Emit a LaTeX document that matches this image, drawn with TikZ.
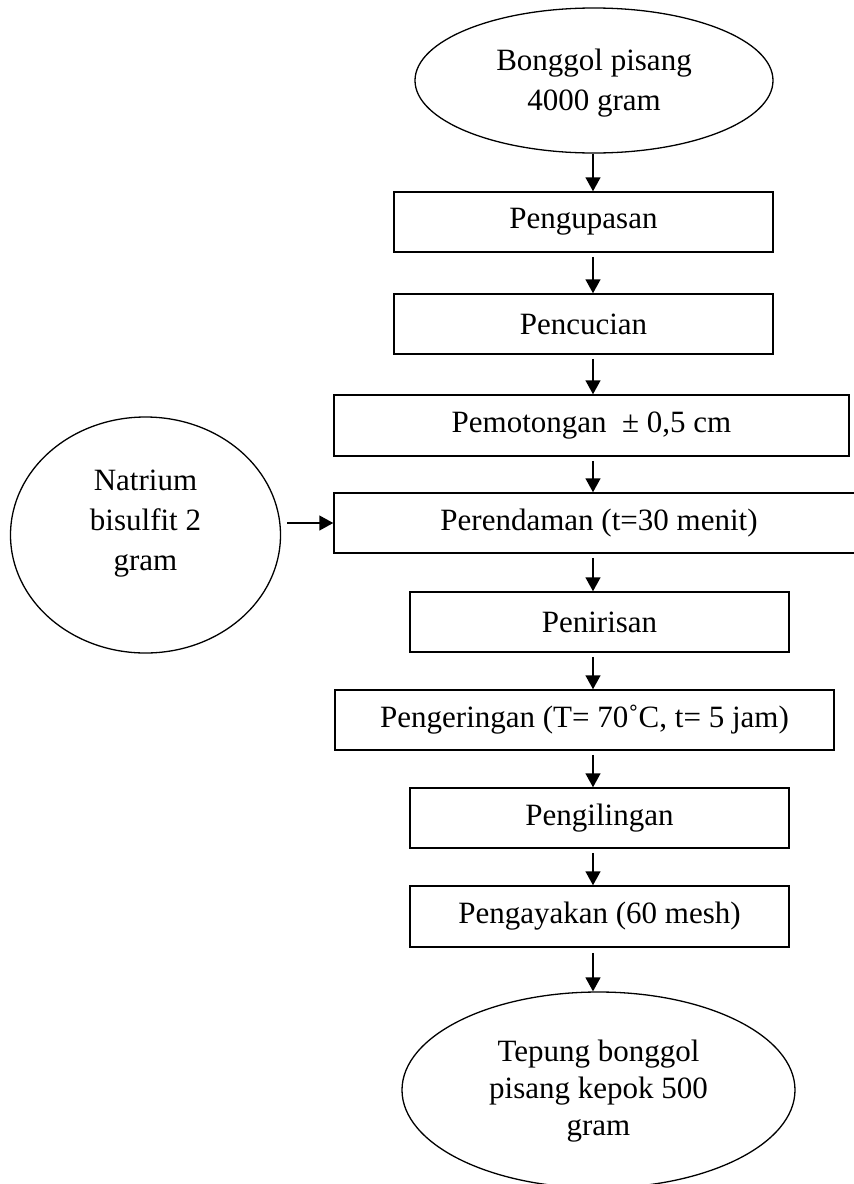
\documentclass[tikz,border=0pt]{standalone}
\usepackage{fontspec}
\setmainfont{Liberation Serif}
\usetikzlibrary{shapes.geometric,arrows.meta}
\begin{document}
\begin{tikzpicture}[x=1pt,y=-1pt,
  box/.style={draw,line width=1.5pt,rectangle,inner sep=0pt,font=\fontsize{31}{40}\selectfont},
  oval/.style={draw,line width=1.3pt,ellipse,inner sep=0pt},
  otext/.style={align=center,inner sep=0pt,font=\fontsize{31}{40}\selectfont},
  arr/.style={line width=1.5pt,-{Triangle[width=15pt,length=14pt]}}]
\useasboundingbox (0,0) rectangle (854,1184);
\coordinate (spine) at (593,0);
% ellipses
\node[oval,minimum width=358pt,minimum height=145pt] (top) at (594,80.5) {};
\node[otext] (toptext) at (594,83) {Bonggol pisang\\4000 gram};
\node[oval,minimum width=270pt,minimum height=236pt] (left) at (145.5,535) {};
\node[otext] (lefttext) at (145.5,524) {Natrium\\bisulfit 2\\gram};
\node[oval,minimum width=393pt,minimum height=196pt] (bottom) at (598.5,1090) {};
\node[otext,font=\fontsize{31}{37}\selectfont] (bottomtext) at (598.5,1091) {Tepung bonggol\\pisang kepok 500\\gram};
% boxes
\node[box,minimum width=379pt,minimum height=60pt] (b1) at (583.5,222) {Pengupasan};
\node[box,minimum width=379pt,minimum height=60pt] (b2) at (583.5,324) {Pencucian};
\node[box,minimum width=515pt,minimum height=61pt] (b3) at (591.5,425.5) {Pemotongan\ \ ± 0,5 cm};
\node[box,minimum width=530pt,minimum height=60pt] (b4) at (599,523) {Perendaman (t=30 menit)};
\node[box,minimum width=379pt,minimum height=60pt] (b5) at (599.5,622) {Penirisan};
\node[box,minimum width=499pt,minimum height=60pt] (b6) at (584.5,720) {Pengeringan (T= 70˚C, t= 5 jam)};
\node[box,minimum width=379pt,minimum height=60pt] (b7) at (599.5,818) {Pengilingan};
\node[box,minimum width=379pt,minimum height=61pt] (b8) at (599.5,916.5) {Pengayakan (60 mesh)};
% arrows
\draw[arr] (top.south -| spine) -- (b1.north -| spine);
\draw[arr,shorten <=4pt] (b1.south -| spine) -- (b2.north -| spine);
\draw[arr,shorten <=4pt] (b2.south -| spine) -- (b3.north -| spine);
\draw[arr,shorten <=4pt] (b3.south -| spine) -- (b4.north -| spine);
\draw[arr,shorten <=4pt] (b4.south -| spine) -- (b5.north -| spine);
\draw[arr,shorten <=4pt] (b5.south -| spine) -- (b6.north -| spine);
\draw[arr,shorten <=4pt] (b6.south -| spine) -- (b7.north -| spine);
\draw[arr,shorten <=4pt] (b7.south -| spine) -- (b8.north -| spine);
\draw[arr,shorten <=5pt] (b8.south -| spine) -- (bottom.north -| spine);
\draw[arr,shorten <=6pt] (left.east |- b4.west) -- (b4.west);
\end{tikzpicture}
\end{document}
